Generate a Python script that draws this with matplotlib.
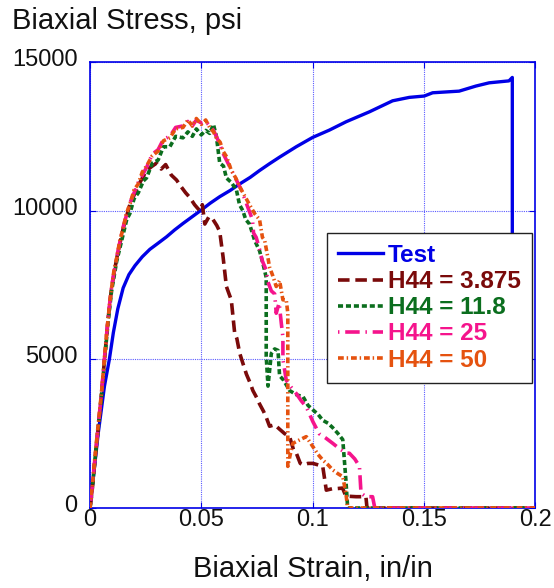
import matplotlib
matplotlib.use("Agg")
import matplotlib.pyplot as plt
from matplotlib.transforms import ScaledTranslation

plt.rcParams['font.family'] = ['Liberation Sans', 'DejaVu Sans']

# Measured test curve
test_strain = [0, 0.0037, 0.0065, 0.0087, 0.0105, 0.0125, 0.0149, 0.0175, 0.0202, 0.0235,
               0.0269, 0.0305, 0.0344, 0.0380, 0.0418, 0.0460, 0.0500, 0.0540, 0.0583, 0.0630,
               0.0673, 0.0720, 0.0762, 0.0807, 0.0852, 0.0927, 0.1001, 0.1076, 0.1151, 0.1256,
               0.1360, 0.1435, 0.1502, 0.1540, 0.1659, 0.1734, 0.1794, 0.1883, 0.1898, 0.1898]
test_stress = [0, 2520, 4100, 5000, 5900, 6700, 7400, 7850, 8150, 8450,
               8700, 8900, 9120, 9350, 9570, 9800, 10020, 10250, 10470, 10680,
               10900, 11120, 11350, 11580, 11800, 12150, 12465, 12710, 12990, 13325,
               13695, 13810, 13855, 13965, 14020, 14190, 14300, 14365, 14480, 6000]

# Model, H44 = 3.875
h3875_strain = [0, 0.0008, 0.0022, 0.0037, 0.0052, 0.0067, 0.0082, 0.0097, 0.0120, 0.0149,
                0.0179, 0.0217, 0.0254, 0.0280, 0.0299, 0.0320, 0.0340, 0.0365, 0.0389, 0.0410,
                0.0430, 0.0448, 0.0470, 0.0493, 0.0505, 0.0516, 0.0535, 0.0553, 0.0570, 0.0583,
                0.0598, 0.0613, 0.0625, 0.0635, 0.0650, 0.0660, 0.0673, 0.0690, 0.0703, 0.0720,
                0.0732, 0.0750, 0.0762, 0.0780, 0.0792, 0.0807, 0.0830, 0.0852, 0.0875, 0.0897,
                0.0915, 0.0927, 0.0945, 0.0957, 0.0980, 0.1002, 0.1025, 0.1046, 0.1062, 0.1090,
                0.1106, 0.1135, 0.1150, 0.1196, 0.1240, 0.1245, 0.2000]
h3875_stress = [0, 450, 1600, 2700, 3850, 5150, 6400, 7400, 8400, 9400,
                10200, 10850, 11350, 11500, 11600, 11400, 11550, 11200, 11030, 10800,
                10600, 10450, 10200, 10000, 10200, 9550, 9800, 9700, 9500, 9300,
                8450, 7450, 7200, 7000, 5900, 5700, 5200, 4800, 4500, 4200,
                3950, 3700, 3500, 3250, 3050, 2750, 2800, 2650, 2500, 2400,
                1950, 1850, 1500, 1450, 1500, 1500, 1450, 1400, 600, 650,
                650, 670, 400, 380, 380, 0, 0]

# Model, H44 = 11.8
h118_strain = [0, 0.0008, 0.0022, 0.0037, 0.0052, 0.0067, 0.0082, 0.0097, 0.0120, 0.0149,
               0.0165, 0.0179, 0.0198, 0.0217, 0.0240, 0.0254, 0.0280, 0.0306, 0.0330, 0.0359,
               0.0385, 0.0418, 0.0440, 0.0460, 0.0478, 0.0500, 0.0520, 0.0538, 0.0555, 0.0568,
               0.0583, 0.0600, 0.0613, 0.0635, 0.0658, 0.0672, 0.0687, 0.0700, 0.0717, 0.0740,
               0.0762, 0.0778, 0.0792, 0.0792, 0.0800, 0.0815, 0.0830, 0.0845, 0.0852, 0.0870,
               0.0897, 0.0930, 0.0957, 0.0980, 0.1002, 0.1025, 0.1046, 0.1070, 0.1091, 0.1115,
               0.1136, 0.1150, 0.1158, 0.2000]
h118_stress = [0, 500, 1600, 2700, 3800, 5100, 6300, 7300, 8300, 9200,
               9700, 9900, 10400, 10600, 11000, 11100, 11600, 11700, 12150, 12150,
               12500, 12450, 12650, 12500, 12750, 12550, 12700, 12600, 12900, 12500,
               11600, 11500, 11100, 10950, 10700, 10200, 10000, 9700, 9550, 9000,
               8650, 8200, 7750, 5100, 4100, 5200, 5350, 5300, 4450, 4300,
               3950, 3800, 3750, 3450, 3300, 3150, 2950, 2850, 2700, 2500,
               2300, 950, 0, 0]

# Model, H44 = 25
h25_strain = [0, 0.0008, 0.0022, 0.0037, 0.0052, 0.0067, 0.0082, 0.0097, 0.0120, 0.0149,
              0.0179, 0.0217, 0.0254, 0.0280, 0.0306, 0.0330, 0.0359, 0.0385, 0.0418, 0.0440,
              0.0460, 0.0478, 0.0500, 0.0520, 0.0538, 0.0555, 0.0568, 0.0585, 0.0600, 0.0620,
              0.0640, 0.0660, 0.0680, 0.0700, 0.0715, 0.0730, 0.0735, 0.0747, 0.0762, 0.0775,
              0.0792, 0.0800, 0.0815, 0.0830, 0.0837, 0.0850, 0.0860, 0.0867, 0.0867, 0.0882,
              0.0900, 0.0927, 0.0950, 0.0972, 0.1002, 0.1030, 0.1060, 0.1091, 0.1120, 0.1150,
              0.1166, 0.1190, 0.1211, 0.1218, 0.1240, 0.1270, 0.1280, 0.2000]
h25_stress = [0, 550, 1650, 2750, 3900, 5200, 6450, 7450, 8450, 9450,
              10250, 10950, 11450, 11900, 12050, 12400, 12500, 12800, 12850, 13000,
              12850, 13050, 12950, 13000, 12850, 12700, 12500, 12200, 11900, 11600,
              11300, 11000, 10700, 10300, 10000, 9700, 9250, 9100, 8700, 8300,
              8000, 7600, 7300, 7200, 6550, 6900, 6200, 5750, 5000, 4300,
              4100, 3850, 3600, 3400, 2900, 2500, 2350, 2175, 2000, 1850,
              1840, 1650, 1400, 500, 380, 380, 0, 0]

# Model, H44 = 50
h50_strain = [0, 0.0008, 0.0015, 0.0022, 0.0030, 0.0037, 0.0045, 0.0052, 0.0060, 0.0067,
              0.0075, 0.0082, 0.0090, 0.0097, 0.0108, 0.0120, 0.0134, 0.0149, 0.0163, 0.0179,
              0.0198, 0.0217, 0.0235, 0.0254, 0.0280, 0.0306, 0.0330, 0.0359, 0.0385, 0.0418,
              0.0440, 0.0460, 0.0478, 0.0500, 0.0520, 0.0538, 0.0555, 0.0568, 0.0585, 0.0598,
              0.0615, 0.0635, 0.0655, 0.0673, 0.0695, 0.0717, 0.0740, 0.0762, 0.0775, 0.0785,
              0.0800, 0.0807, 0.0822, 0.0837, 0.0852, 0.0867, 0.0882, 0.0889, 0.0889, 0.0900,
              0.0912, 0.0942, 0.0972, 0.1002, 0.1025, 0.1046, 0.1070, 0.1091, 0.1115, 0.1136,
              0.1150, 0.1158, 0.2000]
h50_stress = [0, 600, 1100, 1700, 2300, 2800, 3400, 3900, 4600, 5200,
              5900, 6400, 7000, 7400, 8000, 8400, 9000, 9400, 9900, 10200,
              10700, 10900, 11300, 11500, 11850, 12000, 12350, 12450, 12750, 12800,
              13050, 12850, 13100, 12900, 13050, 12800, 12650, 12450, 12300, 12000,
              11800, 11350, 11100, 10800, 10500, 10200, 9900, 9700, 9100, 9000,
              8400, 8100, 7800, 7450, 7650, 7000, 7000, 6550, 1400, 1800,
              2175, 2290, 2400, 2060, 1800, 1615, 1450, 1280, 1150, 1055,
              500, 0, 0]

x_ticks = [0, 0.05, 0.1, 0.15, 0.2]
x_tick_labels = ['0', '0.05', '0.1', '0.15', '0.2']
y_ticks = [0, 5000, 10000, 15000]
y_tick_labels = ['0', '5000', '10000', '15000']

fig = plt.figure(figsize=(5.54, 5.88), dpi=100)
ax = fig.add_axes([90 / 554, 1 - 508 / 588, 445 / 554, 446 / 588])

blue = '#0000e6'
ax.plot(test_strain, test_stress, color=blue, lw=2.4, label='Test', zorder=3)
ax.plot(h3875_strain, h3875_stress, color='#7a0a0a', lw=2.6, dashes=(3.2, 1.6),
        label='H44 = 3.875', zorder=4)
ax.plot(h118_strain, h118_stress, color='#0b6e1e', lw=2.6, dashes=(1.4, 0.8),
        label='H44 = 11.8', zorder=5)
ax.plot(h25_strain, h25_stress, color='#f5148c', lw=2.6, dashes=(0.4, 1.6, 4.0, 1.6),
        label='H44 = 25', zorder=6)
ax.plot(h50_strain, h50_stress, color='#e5520f', lw=2.6, dashes=(1.6, 0.8, 0.4, 0.8),
        label='H44 = 50', zorder=7)

ax.set_xlim(0, 0.2)
ax.set_ylim(0, 15000)
ax.set_xticks(x_ticks)
ax.set_xticklabels(x_tick_labels)
ax.set_yticks(y_ticks)
ax.set_yticklabels(y_tick_labels)
ax.tick_params(direction='in', length=4, width=0.8, color=blue, labelsize=17,
               labelcolor='#111111')
ax.tick_params(axis='x', pad=1)
ax.tick_params(axis='y', pad=9)
ax.tick_params(top=True, right=True)
for lbl in ax.get_yticklabels():
    lbl.set_transform(lbl.get_transform() + ScaledTranslation(0, 4.5 / 100, fig.dpi_scale_trans))
for s in ax.spines.values():
    s.set_color(blue)
    s.set_linewidth(1.2)
ax.grid(True, color='#5a5aff', linestyle=(0, (1, 1)), lw=0.8)
ax.set_axisbelow(True)

ax.set_xlabel('Biaxial Strain, in/in', fontsize=21, color='#111111', va='baseline')
ax.xaxis.set_label_coords(0.5, (508 - 577) / 446)
fig.text(12 / 554, 1 - 29 / 588, 'Biaxial Stress, psi', fontsize=21, color='#111111',
         ha='left', va='baseline')

leg = ax.legend(loc='upper left', bbox_to_anchor=((327 - 90) / 445, (508 - 233) / 446),
                prop={'weight': 'bold', 'size': 17.5}, frameon=True, fancybox=False,
                framealpha=1, edgecolor='#222222', handlelength=1.85, handletextpad=0.2,
                labelspacing=0.13, borderpad=0.45, borderaxespad=0)
leg.get_frame().set_linewidth(1.0)
leg.set_zorder(10)
for txt, line in zip(leg.get_texts(), leg.get_lines()):
    txt.set_color(line.get_color())

fig.savefig('out.png', dpi=100)
